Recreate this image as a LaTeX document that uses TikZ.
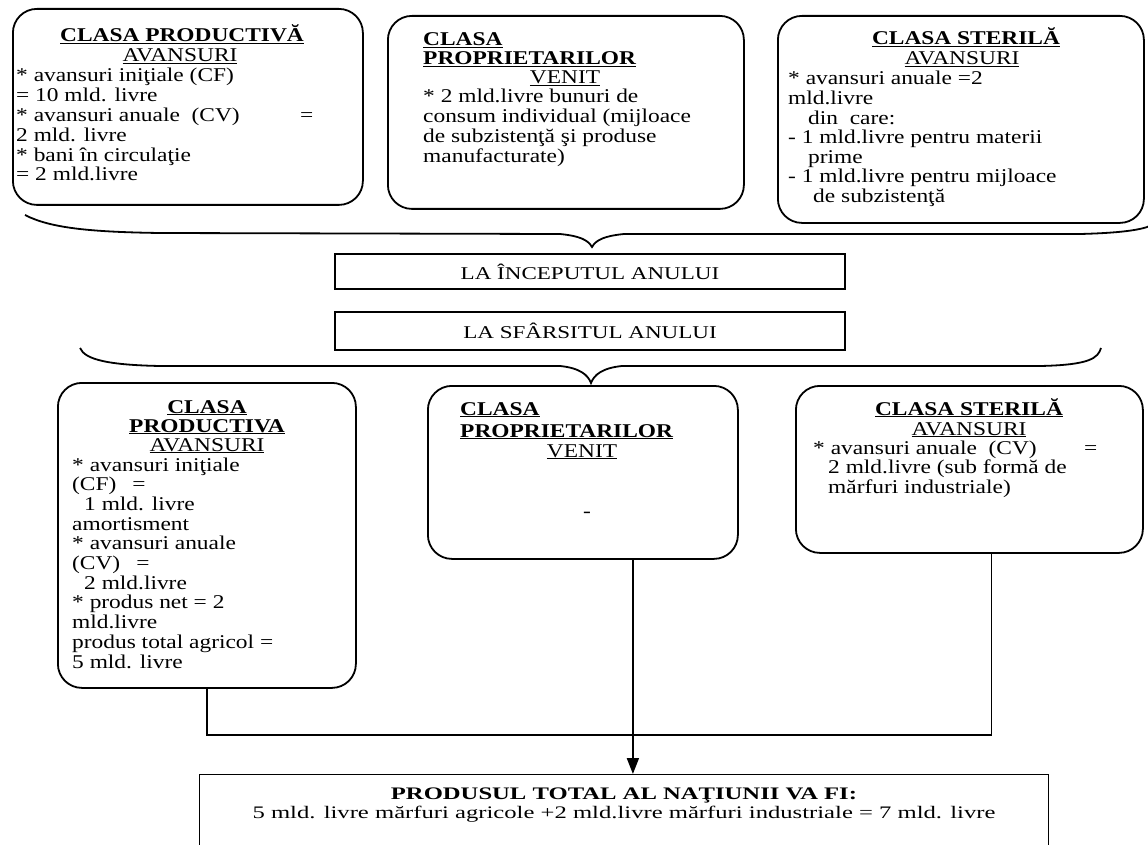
\documentclass[tikz,border=0pt]{standalone}
\usepackage{fontspec}
\setmainfont{Liberation Serif}
\newfontfamily\boxfont[FakeStretch=1.2]{Liberation Serif}
\newfontfamily\bandfont[FakeStretch=1.4]{Liberation Serif}
\newfontfamily\capfont[FakeStretch=1.28]{Liberation Serif}
\usetikzlibrary{calc}
\usetikzlibrary{arrows.meta}
\tikzset{>=latex}
\tikzset{
  cbox/.style={draw, line width=1.8pt, rounded corners=24pt, anchor=north west, inner sep=0pt},
  band/.style={draw, line width=1.2pt, minimum width=510pt, minimum height=35pt, inner sep=0pt, font=\capfont\fontsize{18}{20}\selectfont},
  txt/.style={anchor=base west, inner sep=0pt, font=\boxfont\fontsize{19.5}{19.6}\selectfont},
  hd/.style={txt, anchor=base},
  wire/.style={line width=1.8pt},
  brace/.style={line width=1.8pt},
}
\newcommand{\clshd}[1]{\underline{\textbf{#1}}}
\newcommand{\clssub}[1]{\underline{#1}}

\begin{document}
\begin{tikzpicture}[x=1pt,y=-1pt]
    \useasboundingbox (0,0) rectangle (1148,845);
    % la inceputul anului
    \node[cbox, minimum width=350pt, minimum height=196pt] (tp) at (12,8) {};
    \node[cbox, minimum width=356pt, minimum height=193pt] (tr) at (387,15) {};
    \node[cbox, minimum width=366pt, minimum height=207pt] (ts) at (777,15) {};

    \node[hd] (tph1) at (182,42) {\clshd{CLASA PRODUCTIVĂ}};
    \node[hd] (tph2) at (180,62) {\clssub{AVANSURI}};
    \foreach \t [count=\i] in {{* avansuri iniţiale (CF)},{= 10 mld. livre},{\makebox[297pt][s]{* avansuri anuale\ \ (CV)\hfill=}},{2 mld. livre},{* bani în circulaţie},{= 2 mld.livre}} {
      \node[txt] (tpl\i) at (16,{82+19.8*(\i-1)}) {\t};
    }

    \node[txt] (trh1) at (423,46) {\clshd{CLASA}};
    \node[txt] (trh2) at (423,65) {\clshd{PROPRIETARILOR}};
    \node[hd] (trh3) at (565,84) {\clssub{VENIT}};
    \foreach \t [count=\i] in {{* 2 mld.livre bunuri de},{consum individual (mijloace},{de subzistenţă şi produse},{manufacturate)}} {
      \node[txt] (trl\i) at (423,{103+19.8*(\i-1)}) {\t};
    }

    \node[hd] (tsh1) at (966,45) {\clshd{CLASA STERILĂ}};
    \node[hd] (tsh2) at (962,65) {\clssub{AVANSURI}};
    \foreach \t [count=\i] in {{* avansuri anuale =2},{mld.livre},{\hspace{20pt}din\ \ care:},{- 1 mld.livre pentru materii},{\hspace{20pt}prime},{- 1 mld.livre pentru mijloace},{\hspace{25pt}de subzistenţă}} {
      \node[txt] (tsl\i) at (788,{85+19.6*(\i-1)}) {\t};
    }

    % acolade
    \draw[brace] (25,215) .. controls (50,228) and (90,232) .. (160,233) -- (560,234)
      .. controls (580,236) and (588,240) .. (592,247) .. controls (596,240) and (604,236) .. (624,234)
      -- (1080,234) .. controls (1120,233) and (1140,230) .. (1150,226);

    \node[band] (inc) at (590,271.5) {LA ÎNCEPUTUL ANULUI};
    \node[band, minimum height=38pt] (sfa) at (590,331) {LA SFÂRSITUL ANULUI};

    \draw[brace] (80,348) .. controls (85,360) and (110,365) .. (160,366) -- (560,366)
      .. controls (580,368) and (588,375) .. (591,383) .. controls (594,375) and (602,368) .. (622,366)
      -- (1040,366) .. controls (1090,365) and (1098,358) .. (1101,348);

    % la sfarsitul anului
    \node[cbox, minimum width=298pt, minimum height=305pt] (pb) at (57,382) {};
    \node[cbox, minimum width=310pt, minimum height=173pt] (pr) at (427,385) {};
    \node[cbox, minimum width=347pt, minimum height=167pt] (ps) at (795,385) {};

    \node[hd] (pbh1) at (207,413) {\clshd{CLASA}};
    \node[hd] (pbh2) at (207,432) {\clshd{PRODUCTIVA}};
    \node[hd] (pbh3) at (207,451) {\clssub{AVANSURI}};
    \foreach \t [count=\i] in {{* avansuri iniţiale},{(CF)\hspace{16pt}=},{\hspace{12pt}1 mld. livre},{amortisment},{* avansuri anuale},{(CV)\hspace{16pt}=},{\hspace{12pt}2 mld.livre},{* produs net = 2},{mld.livre},{produs total agricol =},{5 mld. livre}} {
      \node[txt] (pbl\i) at (72,{471+19.7*(\i-1)}) {\t};
    }

    \node[txt] (prh1) at (460,415) {\clshd{CLASA}};
    \node[txt] (prh2) at (460,437) {\clshd{PROPRIETARILOR}};
    \node[hd] (prh3) at (582,457) {\clssub{VENIT}};
    \node[hd] (prd) at (587,517) {-};

    \node[hd] (psh1) at (969,415) {\clshd{CLASA STERILĂ}};
    \node[hd] (psh2) at (969,435) {\clssub{AVANSURI}};
    \node[txt] (psl1) at (813,454) {\makebox[284pt][s]{* avansuri anuale\ \ (CV)\hfill=}};
    \node[txt] (psl2) at (828,473.5) {2 mld.livre (sub formă de};
    \node[txt] (psl3) at (828,493) {mărfuri industriale)};

    % produsul total
    \node[draw, line width=1.2pt, anchor=north west, minimum width=849pt, minimum height=80pt, inner sep=0pt] (tot) at (199,774) {};
    \node[anchor=base, inner sep=0pt, font=\bandfont\fontsize{17.6}{20}\selectfont\bfseries] (tot1) at (624,799) {PRODUSUL TOTAL AL NAŢIUNII VA FI:};
    \node[anchor=base, inner sep=0pt, font=\bandfont\fontsize{17.6}{20}\selectfont] (tot2) at (624,818) {5 mld. livre mărfuri agricole +2 mld.livre mărfuri industriale = 7 mld. livre};

    \coordinate (bus) at (0,735);
    \coordinate (psout) at ($(ps.south)+(22,0)$);
    \coordinate (prout) at ($(pr.south)+(50,0)$);
    \draw[wire] (pb.south) |- (bus -| psout) -- (psout);
    \draw[wire,-{Triangle[width=12pt,length=16pt]}] (prout) -- (prout |- tot.north);
\end{tikzpicture}
\end{document}
